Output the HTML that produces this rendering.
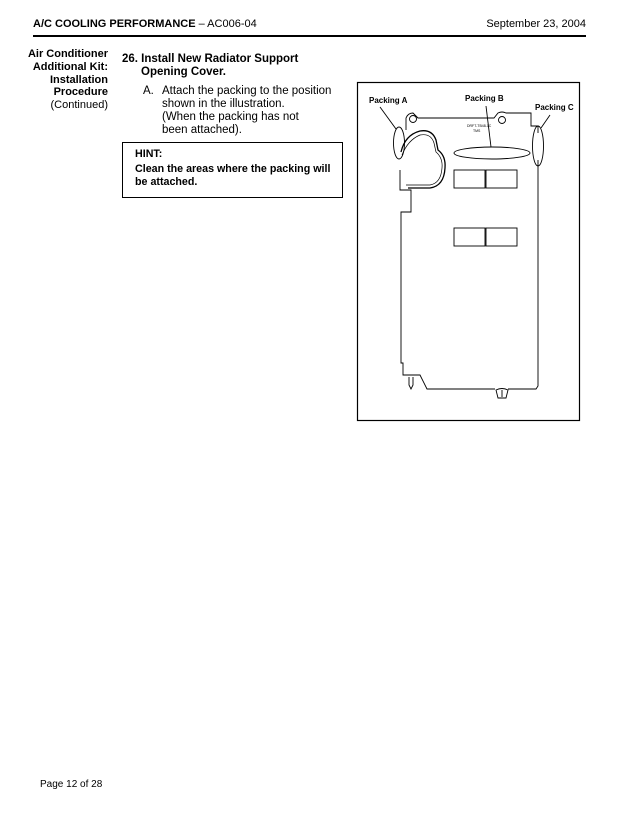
<!DOCTYPE html>
<html><head><meta charset="utf-8"><style>
html,body{margin:0;padding:0;background:#fff;}
body{width:640px;height:832px;position:relative;overflow:hidden;font-family:"Liberation Sans",Arial,sans-serif;color:#000;}
.a{position:absolute;white-space:nowrap;}
.b{font-weight:bold;}
</style></head><body>
<div class="a" style="left:33px;top:18px;font-size:11px;"><span class="b">A/C COOLING PERFORMANCE</span> – AC006-04</div>
<div class="a" style="right:54px;top:18px;font-size:11px;">September 23, 2004</div>
<div class="a" style="left:33px;top:35px;width:553px;height:2px;background:#000;"></div>

<div class="a" style="right:532px;top:48px;font-size:11px;line-height:12.8px;text-align:right;"><span class="b">Air Conditioner<br>Additional Kit:<br>Installation<br>Procedure</span><br>(Continued)</div>

<div class="a b" style="left:122px;top:53px;font-size:11.5px;line-height:13px;">26. Install New Radiator Support</div>
<div class="a b" style="left:141px;top:66px;font-size:11.5px;line-height:13px;">Opening Cover.</div>
<div class="a" style="left:143px;top:85px;font-size:11.5px;line-height:13px;">A.</div>
<div class="a" style="left:162px;top:85px;font-size:11.5px;line-height:13px;">Attach the packing to the position<br>shown in the illustration.<br>(When the packing has not<br>been attached).</div>

<div class="a" style="left:122px;top:142px;width:219px;height:54px;border:1px solid #000;"></div>
<div class="a b" style="left:135px;top:148px;font-size:10.7px;">HINT:</div>
<div class="a b" style="left:135px;top:163px;font-size:10.7px;line-height:13px;">Clean the areas where the packing will<br>be attached.</div>

<svg class="a" style="left:0;top:0" width="640" height="832" viewBox="0 0 640 832">
<rect x="357.5" y="82.5" width="222" height="338" fill="none" stroke="#000" stroke-width="1.2"/>
<g font-family="Liberation Sans,Arial,sans-serif" font-size="8" font-weight="bold">
<text x="369" y="103">Packing A</text>
<text x="465" y="101">Packing B</text>
<text x="535" y="110">Packing C</text>
</g>
<g fill="none" stroke="#000" stroke-width="0.9">
<path d="M400,170 L400,190 L411,190 L411,212 L401,212 L401,363 L403,363 L403,375 L420,375 L427,389 L495,389 M508,389 L536,389 L538,386 L538,160"/>
<path d="M538,133 L538,126 L531,126 L531,113 L506,113 Q502,111 498,113 L494,118 L418,118 L413,113 Q408,113 406,118 L406,130"/>
<circle cx="413" cy="119" r="3.5"/>
<circle cx="502" cy="120" r="3.5"/>
<ellipse cx="399" cy="143" rx="5.5" ry="16"/>
<ellipse cx="492" cy="153" rx="38" ry="6"/>
<ellipse cx="538" cy="146" rx="5.5" ry="20"/>
<line x1="380" y1="107" x2="396" y2="129"/>
<line x1="486" y1="106" x2="491" y2="147"/>
<line x1="550" y1="115" x2="541" y2="128"/>
<rect x="454" y="170" width="31" height="18"/>
<rect x="486" y="170" width="31" height="18"/>
<rect x="454" y="228" width="31" height="18"/>
<rect x="486" y="228" width="31" height="18"/>
<path d="M401,152 Q405,135 420,131 Q432,129 436,140 L438,150 Q446,156 445,168 Q444,186 430,188 L408,188" stroke-width="1.3"/>
<path d="M402,155 Q408,140 420,135 Q431,133 434,143 L436,152 Q443,158 442,168 Q441,183 430,185 L406,185" stroke-width="0.7"/>
<path d="M409,377 L409,385 L411,389 L413,385 L413,377"/>
<path d="M496,390 Q502,387 508,390 L506,398 L498,398 Z"/>
<line x1="502" y1="390" x2="502" y2="397"/>
</g>
<text x="467" y="127" font-size="3.5" font-family="Liberation Sans,sans-serif">DRFT-TB48-1C</text>
<text x="473" y="132" font-size="3.5" font-family="Liberation Sans,sans-serif">TMS</text>
</svg>

<div class="a" style="left:40px;top:779px;font-size:10px;">Page 12 of 28</div>
</body></html>
